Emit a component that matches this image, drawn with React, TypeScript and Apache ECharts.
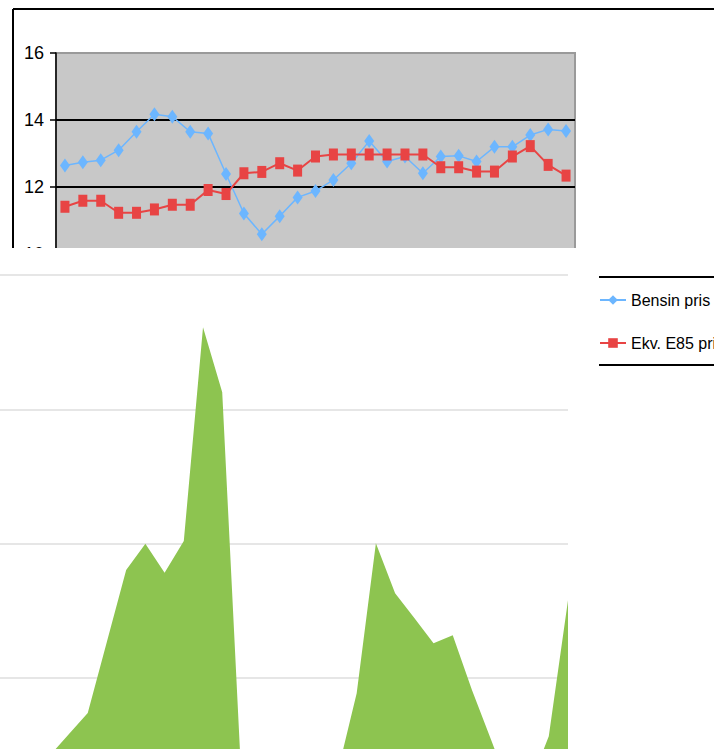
import React, { useEffect, useRef } from "react";
import * as echarts from "echarts";

// Top chart: weekly prices (SEK/l)
const priceWeeks = Array.from({ length: 29 }, (_, i) => `v${i + 1}`);
const bensinPris = [
  12.64, 12.74, 12.8, 13.1, 13.65, 14.17, 14.1, 13.65, 13.6, 12.39, 11.21, 10.59, 11.13, 11.69, 11.88,
  12.21, 12.71, 13.37, 12.76, 12.91, 12.41, 12.91, 12.93, 12.76, 13.2, 13.2, 13.55, 13.72, 13.67,
];
const e85Pris = [
  11.41, 11.59, 11.59, 11.23, 11.23, 11.33, 11.47, 11.47, 11.91, 11.79, 12.41, 12.45, 12.71, 12.49, 12.91,
  12.97, 12.97, 12.97, 12.97, 12.97, 12.97, 12.59, 12.59, 12.46, 12.46, 12.91, 13.22, 12.66, 12.34,
];
const priceTicks = [10, 12, 14, 16];

// Bottom chart: interest index (0-100)
const interestPeriods = Array.from({ length: 31 }, (_, i) => `p${i + 1}`);
const interestValues = [
  5, 6, 8, 10.5, 14.5, 18.5, 31.8, 45.1, 50.0, 44.6, 50.5, 90.3, 78.2, 6, 4, 3, 3, 4, 7.4, 22.2, 50.1,
  40.8, 36.2, 31.5, 33.0, 22.8, 13.5, 4, 5, 14.2, 39.5,
];

const SANS = "'Liberation Sans', Arial, sans-serif";

export default function App() {
  const ref = useRef<HTMLDivElement>(null);
  useEffect(() => {
    if (!ref.current) return;
    const chart = echarts.init(ref.current, undefined, { renderer: "svg" });
    chart.setOption({
      animation: false,
      backgroundColor: "#ffffff",
      legend: {
        orient: "vertical",
        left: 599,
        top: 291,
        padding: 0,
        itemWidth: 26,
        itemHeight: 12,
        itemGap: 25,
        z: 10,
        textStyle: { fontFamily: SANS, fontSize: 16, color: "#000", lineHeight: 18 },
        data: ["Bensin pris", "Ekv. E85 pris"],
      },
      grid: [
        {
          left: 56,
          top: 53,
          width: 519,
          height: 201,
          show: true,
          outerBoundsMode: "none",
          backgroundColor: "#c8c8c8",
          borderColor: "#9a9a9a",
          borderWidth: 2,
        },
        {
          left: -8.3,
          top: 275,
          width: 576.3,
          height: 537.5,
          outerBoundsMode: "none",
          show: false,
        },
      ],
      xAxis: [
        { type: "category", gridIndex: 0, data: priceWeeks, boundaryGap: true, show: false },
        { type: "category", gridIndex: 1, data: interestPeriods, boundaryGap: false, show: false },
      ],
      yAxis: [
        {
          type: "value",
          gridIndex: 0,
          min: priceTicks[0],
          max: priceTicks[priceTicks.length - 1],
          interval: 2,
          axisLine: { show: true, lineStyle: { color: "#000", width: 1.5 } },
          axisTick: { show: true, length: 6, lineStyle: { color: "#000", width: 1.5 } },
          axisLabel: { fontFamily: SANS, fontSize: 18, color: "#000", margin: 12 },
          splitLine: { show: true, lineStyle: { color: ["#000", "#000", "#000", "#9a9a9a"], width: 2 } },
        },
        {
          type: "value",
          gridIndex: 1,
          min: 0,
          max: 100,
          interval: 25,
          z: 4,
          axisLine: { show: false },
          axisTick: { show: false },
          axisLabel: { show: false },
          splitLine: { show: true, lineStyle: { color: "#e6e6e6", width: 2 } },
        },
      ],
      graphic: [
        { type: "rect", z: 3, shape: { x: 0, y: 248, width: 714, height: 501 }, style: { fill: "#ffffff" } },
        { type: "line", z: 10, shape: { x1: 13, y1: 9, x2: 714, y2: 9 }, style: { stroke: "#000", lineWidth: 2 } },
        { type: "line", z: 1, shape: { x1: 13, y1: 9, x2: 13, y2: 248 }, style: { stroke: "#000", lineWidth: 2 } },
        { type: "line", z: 10, shape: { x1: 599, y1: 277, x2: 714, y2: 277 }, style: { stroke: "#000", lineWidth: 2 } },
        { type: "line", z: 10, shape: { x1: 599, y1: 365, x2: 714, y2: 365 }, style: { stroke: "#000", lineWidth: 2 } },
      ],
      series: [
        {
          name: "Bensin pris",
          type: "line",
          xAxisIndex: 0,
          yAxisIndex: 0,
          data: bensinPris,
          symbol: "diamond",
          symbolSize: [10, 14],
          showAllSymbol: true,
          color: "#6cb6ff",
          lineStyle: { width: 1.5, color: "#6cb6ff" },
          itemStyle: { color: "#6cb6ff" },
          z: 2,
        },
        {
          name: "Ekv. E85 pris",
          type: "line",
          xAxisIndex: 0,
          yAxisIndex: 0,
          data: e85Pris,
          symbol: "rect",
          symbolSize: [9, 12],
          showAllSymbol: true,
          color: "#e84444",
          lineStyle: { width: 2, color: "#e84444" },
          itemStyle: { color: "#e84444" },
          z: 2,
        },
        {
          name: "Intresse",
          type: "line",
          xAxisIndex: 1,
          yAxisIndex: 1,
          data: interestValues,
          symbol: "none",
          lineStyle: { width: 0 },
          areaStyle: { color: "#8dc450", opacity: 1 },
          z: 5,
        },
      ],
    });
    return () => chart.dispose();
  }, []);
  return (
    <div
      ref={ref}
      style={{ position: "fixed", left: 0, top: 0, width: 714, height: 749 }}
    />
  );
}
